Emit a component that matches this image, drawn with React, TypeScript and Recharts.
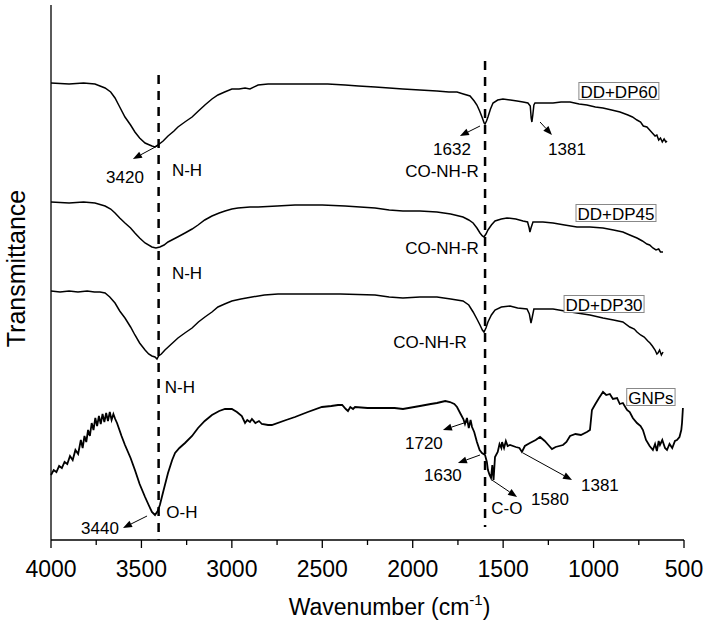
import React from 'react';
import { LineChart, Line, XAxis, YAxis, ReferenceLine, ReferenceDot, Label } from 'recharts';

// FTIR spectra, offset vertically (arbitrary transmittance units), [wavenumber, T]
const dp60: number[][] = [
  [4000, 457], [3900, 456], [3820, 457], [3757, 456], [3701, 452], [3670, 448], [3646, 442], [3620, 433],
  [3591, 423], [3560, 415], [3536, 408], [3510, 402], [3480, 397], [3442, 394], [3425, 393], [3408, 395],
  [3380, 399], [3353, 404], [3320, 409], [3298, 413], [3260, 418], [3220, 423], [3185, 429], [3149, 435],
  [3110, 441], [3077, 445], [3040, 448], [3000, 451], [2960, 451], [2927, 452], [2900, 451], [2855, 455],
  [2800, 456], [2745, 456], [2650, 456], [2557, 456], [2470, 456], [2374, 455], [2300, 454], [2208, 453],
  [2130, 452], [2054, 451], [1960, 450], [1866, 449], [1800, 448], [1755, 448], [1720, 446], [1683, 444],
  [1660, 439], [1645, 435], [1630, 429], [1617, 423], [1605, 417], [1600, 416], [1592, 419], [1584, 423],
  [1570, 431], [1556, 437], [1530, 440], [1501, 441], [1460, 440], [1423, 439], [1390, 438], [1363, 437],
  [1350, 434], [1345, 422], [1341, 418], [1336, 425], [1330, 435], [1324, 437], [1280, 437], [1224, 437],
  [1180, 438], [1130, 438], [1080, 436], [1037, 435], [990, 433], [948, 432], [900, 430], [854, 428],
  [810, 425], [785, 423], [760, 420], [740, 418], [725, 414], [705, 413], [690, 410], [675, 407],
  [660, 404], [650, 405], [640, 400], [630, 402], [620, 398], [610, 401], [600, 398], [594, 399],
];

const dp45: number[][] = [
  [4000, 338], [3900, 337], [3820, 338], [3757, 337], [3701, 334], [3670, 331], [3646, 327], [3620, 322],
  [3591, 317], [3560, 312], [3536, 307], [3510, 302], [3480, 297], [3442, 293], [3420, 292], [3398, 293],
  [3375, 295], [3353, 298], [3300, 303], [3259, 307], [3220, 311], [3187, 315], [3150, 320], [3110, 324],
  [3070, 327], [3038, 329], [3000, 331], [2966, 332], [2900, 333], [2855, 333], [2750, 334], [2651, 335],
  [2500, 335], [2374, 334], [2208, 332], [2130, 330], [2054, 329], [1960, 329], [1866, 328], [1790, 326],
  [1722, 323], [1690, 320], [1666, 317], [1645, 312], [1628, 307], [1615, 304], [1606, 303], [1595, 306],
  [1584, 310], [1565, 315], [1545, 319], [1510, 321], [1479, 322], [1430, 321], [1390, 319], [1365, 318],
  [1356, 312], [1352, 308], [1346, 312], [1335, 318], [1280, 318], [1224, 317], [1160, 315], [1092, 313],
  [1020, 313], [948, 312], [890, 310], [838, 308], [800, 305], [760, 302], [730, 299], [705, 296],
  [690, 295], [672, 292], [655, 290], [640, 291], [630, 288], [616, 288],
];

const dp30: number[][] = [
  [4000, 249], [3950, 248], [3900, 249], [3851, 248], [3800, 249], [3760, 248], [3729, 248], [3701, 247],
  [3675, 243], [3646, 237], [3620, 229], [3591, 222], [3560, 213], [3536, 205], [3510, 197], [3480, 190],
  [3460, 186], [3442, 184], [3425, 183], [3414, 181], [3405, 184], [3390, 186], [3370, 190], [3340, 195],
  [3298, 202], [3260, 207], [3220, 212], [3185, 218], [3149, 223], [3110, 228], [3077, 233], [3040, 236],
  [3000, 239], [2950, 241], [2889, 243], [2820, 245], [2745, 246], [2650, 246], [2557, 246], [2400, 246],
  [2208, 245], [2130, 243], [2054, 242], [1960, 243], [1866, 243], [1790, 241], [1722, 239], [1690, 235],
  [1666, 228], [1645, 221], [1628, 215], [1615, 210], [1606, 208], [1595, 212], [1584, 218], [1565, 225],
  [1545, 230], [1510, 233], [1462, 234], [1420, 232], [1368, 231], [1355, 226], [1346, 217], [1340, 222],
  [1330, 231], [1280, 231], [1224, 231], [1160, 229], [1092, 227], [1020, 225], [948, 222], [890, 220],
  [838, 218], [800, 213], [775, 211], [760, 208], [740, 205], [720, 203], [700, 199], [688, 197],
  [675, 194], [660, 190], [650, 186], [644, 187], [635, 190], [625, 185], [616, 188],
];

const gnps: number[][] = [
  [4000, 65], [3985, 70], [3970, 68], [3955, 74], [3940, 72], [3925, 78], [3910, 76], [3895, 84],
  [3880, 80], [3865, 90], [3850, 86], [3835, 100], [3825, 92], [3815, 104], [3805, 98], [3795, 110],
  [3785, 104], [3775, 117], [3765, 110], [3755, 122], [3745, 114], [3735, 124], [3725, 116], [3715, 126],
  [3705, 118], [3695, 127], [3685, 119], [3675, 128], [3665, 120], [3655, 126], [3645, 121], [3635, 117],
  [3610, 104], [3591, 95], [3560, 82], [3536, 70], [3510, 56], [3480, 43], [3460, 35], [3442, 28],
  [3425, 25], [3410, 29], [3398, 35], [3380, 48], [3353, 67], [3330, 80], [3314, 87], [3290, 92],
  [3259, 97], [3220, 104], [3187, 112], [3150, 119], [3110, 125], [3070, 129], [3038, 131], [3000, 131],
  [2972, 128], [2945, 124], [2927, 117], [2915, 120], [2900, 118], [2889, 121], [2870, 117], [2850, 119],
  [2834, 116], [2800, 115], [2779, 115], [2700, 120], [2651, 123], [2580, 128], [2502, 133], [2450, 134],
  [2413, 135], [2390, 135], [2370, 131], [2358, 129], [2345, 133], [2330, 131], [2319, 133], [2250, 132],
  [2208, 132], [2100, 132], [2054, 131], [1960, 134], [1900, 136], [1866, 137], [1820, 139], [1794, 138],
  [1770, 136], [1755, 133], [1735, 126], [1720, 121], [1711, 116], [1700, 122], [1690, 112], [1680, 120],
  [1672, 113], [1660, 108], [1645, 98], [1630, 90], [1617, 87], [1600, 85], [1590, 78], [1584, 70],
  [1575, 65], [1567, 62], [1560, 75], [1553, 60], [1545, 83], [1530, 88], [1520, 96], [1510, 92],
  [1506, 98], [1495, 92], [1485, 99], [1475, 94], [1462, 95], [1430, 93], [1410, 92], [1396, 88],
  [1380, 94], [1352, 97], [1320, 100], [1296, 103], [1270, 99], [1250, 95], [1230, 91], [1210, 93],
  [1169, 95], [1150, 98], [1130, 104], [1100, 106], [1070, 105], [1037, 108], [1020, 110], [1009, 130],
  [990, 136], [970, 142], [948, 148], [930, 145], [910, 146], [893, 141], [870, 142], [855, 136],
  [838, 137], [815, 130], [800, 128], [783, 122], [760, 117], [740, 114], [727, 110], [710, 100],
  [690, 94], [672, 90], [660, 96], [650, 89], [640, 99], [633, 95], [620, 100], [605, 92],
  [594, 90], [580, 96], [565, 92], [550, 99], [539, 100], [525, 103], [515, 110], [511, 117], [506, 132],
];

const xTicks = [4000, 3750, 3500, 3250, 3000, 2750, 2500, 2250, 2000, 1750, 1500, 1250, 1000, 750, 500];

// dashed marker lines: [wavenumber, from T, to T]
const guides = [
  [3405, 465, 0],
  [1600, 479, 13],
];

// arrows: [from wn, from T, to wn, to T]
const arrows = [
  [3403, 395, 3547, 381],
  [1628, 414, 1739, 404],
  [1296, 418, 1230, 405],
  [3469, 24, 3602, 12],
  [1700, 118, 1833, 110],
  [1628, 85, 1750, 77],
  [1562, 60, 1423, 43],
  [1390, 87, 1119, 60],
];

const notes: [number, number, string][] = [
  [3591, 363, '3420'],
  [3248, 370, 'N-H'],
  [3248, 267, 'N-H'],
  [3287, 153, 'N-H'],
  [3276, 28, 'O-H'],
  [3729, 12, '3440'],
  [1783, 391, '1632'],
  [1838, 369, 'CO-NH-R'],
  [1147, 391, '1381'],
  [1838, 292, 'CO-NH-R'],
  [1904, 198, 'CO-NH-R'],
  [1938, 97, '1720'],
  [1833, 65, '1630'],
  [1241, 41, '1580'],
  [965, 55, '1381'],
  [1479, 32, 'C-O'],
];

const legendTags: [number, number, string][] = [
  [860, 449, 'DD+DP60'],
  [876, 327, 'DD+DP45'],
  [942, 236, 'DD+DP30'],
  [683, 143, 'GNPs'],
];

const FONT = '"Liberation Sans", Arial, sans-serif';

// rough Arial advance widths (em) for sizing the label boxes
const CHAR_W: Record<string, number> = { D: 0.722, P: 0.667, G: 0.778, N: 0.722, '+': 0.584, s: 0.5 };
const textWidth = (t: string, size: number) =>
  t.split('').reduce((sum, c) => sum + (CHAR_W[c] ?? 0.556), 0) * size;

const toRows = (pts: number[][]) => pts.map(([wn, t]) => ({ wn, t }));

function WnTick(props: any) {
  const { x, y, payload } = props;
  const major = payload.value % 500 === 0;
  return (
    <g>
      <line x1={x} y1={y} x2={x} y2={y + (major ? 8 : 5)} stroke="#000" strokeWidth={1.3} />
      {major && (
        <text x={x} y={y + 37} textAnchor="middle" fontSize={23} fill="#000" fontFamily={FONT}>
          {payload.value}
        </text>
      )}
    </g>
  );
}

function arrowShape(props: any) {
  const { x1, y1, x2, y2 } = props;
  const a = Math.atan2(y2 - y1, x2 - x1);
  const len = 9;
  const w = 3.5;
  const bx = x2 - len * Math.cos(a);
  const by = y2 - len * Math.sin(a);
  const pts = `${x2},${y2} ${bx - w * Math.sin(a)},${by + w * Math.cos(a)} ${bx + w * Math.sin(a)},${by - w * Math.cos(a)}`;
  return (
    <g>
      <line x1={x1} y1={y1} x2={bx} y2={by} stroke="#000" strokeWidth={1} />
      <polygon points={pts} fill="#000" />
    </g>
  );
}

const noteShape = (text: string) => (p: any) => (
  <text x={p.cx} y={p.cy} textAnchor="middle" dominantBaseline="central" fontSize={17} fill="#000" fontFamily={FONT}>
    {text}
  </text>
);

const tagShape = (text: string) => (p: any) => {
  const w = textWidth(text, 17) + 3;
  return (
    <g>
      <rect x={p.cx - w / 2} y={p.cy - 8.5} width={w} height={17} fill="#fff" stroke="#888" strokeWidth={1} />
      <text x={p.cx} y={p.cy + 1} textAnchor="middle" dominantBaseline="central" fontSize={17} fill="#000" fontFamily={FONT}>
        {text}
      </text>
    </g>
  );
};

export default function App() {
  const series = [dp60, dp45, dp30, gnps];
  return (
    <div style={{ position: 'absolute', left: 0, top: 0, fontFamily: FONT }}>
      <LineChart width={707} height={625} margin={{ top: 5, right: 23, bottom: 0, left: 0 }}>
        <XAxis
          type="number"
          dataKey="wn"
          domain={[500, 4000]}
          reversed
          ticks={xTicks}
          interval={0}
          height={85}
          tickLine={false}
          tickSize={0}
          tickMargin={0}
          axisLine={{ stroke: '#000', strokeWidth: 1.3 }}
          tick={(p: any) => <WnTick {...p} />}
        >
          <Label
            content={({ viewBox }: any) => (
              <text x={viewBox.x + viewBox.width / 2 + 22} y={viewBox.y + 75} textAnchor="middle" fontSize={23} fill="#000" fontFamily={FONT}>
                Wavenumber (cm
                <tspan fontSize={15} dy={-10}>-1</tspan>
                <tspan dy={10}>)</tspan>
              </text>
            )}
          />
        </XAxis>
        <YAxis
          type="number"
          domain={[0, 535]}
          width={51}
          tick={false}
          tickLine={false}
          axisLine={{ stroke: '#000', strokeWidth: 1.3 }}
        >
          <Label
            content={({ viewBox }: any) => (
              <text
                transform={`translate(${viewBox.x + 25},${viewBox.y + viewBox.height / 2 - 4}) rotate(-90)`}
                textAnchor="middle"
                fontSize={25}
                fill="#000"
                fontFamily={FONT}
              >
                Transmittance
              </text>
            )}
          />
        </YAxis>
        {series.map((s, i) => (
          <Line
            key={i}
            data={toRows(s)}
            dataKey="t"
            type="linear"
            stroke="#000"
            strokeWidth={i === 3 ? 1.8 : 1.5}
            dot={false}
            activeDot={false}
            isAnimationActive={false}
          />
        ))}
        {guides.map(([wn, a, b], i) => (
          <ReferenceLine
            key={'g' + i}
            segment={[{ x: wn, y: a }, { x: wn, y: b }]}
            stroke="#000"
            strokeWidth={2.5}
            strokeDasharray="9 7"
            ifOverflow="visible"
          />
        ))}
        {arrows.map(([xa, ya, xb, yb], i) => (
          <ReferenceLine
            key={'a' + i}
            segment={[{ x: xa, y: ya }, { x: xb, y: yb }]}
            ifOverflow="visible"
            shape={arrowShape}
          />
        ))}
        {notes.map(([wn, t, text], i) => (
          <ReferenceDot key={'n' + i} x={wn} y={t} r={0} ifOverflow="visible" shape={noteShape(text)} />
        ))}
        {legendTags.map(([wn, t, text], i) => (
          <ReferenceDot key={'t' + i} x={wn} y={t} r={0} ifOverflow="visible" shape={tagShape(text)} />
        ))}
      </LineChart>
    </div>
  );
}
